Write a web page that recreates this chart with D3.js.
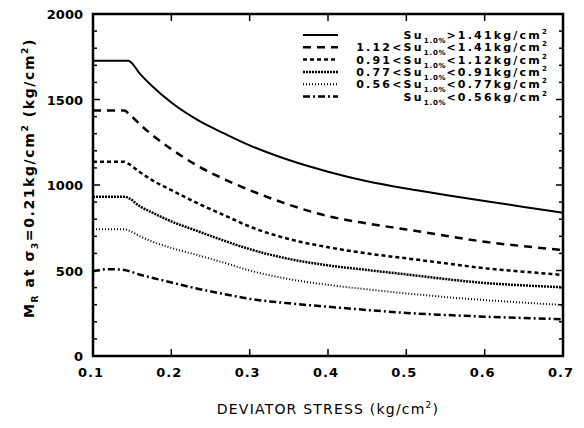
<!DOCTYPE html>
<html><head><meta charset="utf-8">
<script src="https://cdn.jsdelivr.net/npm/d3@7"></script>
<style>body{margin:0;background:#fff}svg{display:block}text{font-family:"DejaVu Sans",sans-serif}</style>
</head><body><div id="c"></div>
<script>
const xValues = [0.10,0.12,0.14,0.145,0.16,0.175,0.20,0.235,0.27,0.30,0.35,0.40,0.45,0.50,0.55,0.60,0.65,0.70];
const seriesGT141   = [1727,1727,1727,1727,1650,1580,1482,1376,1296,1232,1146,1078,1022,979,942,906,872,838];
const series112_141 = [1435,1435,1435,1420,1354,1295,1210,1108,1029,970,885,818,775,740,703,668,642,620];
const series091_112 = [1136,1136,1136,1125,1075,1030,970,890,818,757,684,636,600,571,542,513,493,474];
const series077_091 = [932,932,932,925,875,840,787,728,670,625,568,530,503,477,450,427,413,402];
const series056_077 = [741,741,741,735,700,670,632,588,542,500,450,416,390,366,345,327,312,298];
const seriesLT056   = [495,508,503,498,475,458,430,392,360,334,308,288,269,252,240,230,222,215];
const legendPre  = ["", "1.12<", "0.91<", "0.77<", "0.56<", ""];
const legendPost = [">1.41kg/cm", "<1.41kg/cm", "<1.12kg/cm", "<0.91kg/cm", "<0.77kg/cm", "<0.56kg/cm"];
const xTicks = [0.1,0.2,0.3,0.4,0.5,0.6,0.7];
const yTicks = [0,500,1000,1500,2000];

const allSeries = [seriesGT141, series112_141, series091_112, series077_091, series056_077, seriesLT056];
const dashes = [null, "8,6", "4,3", "2,1", "1,2", "7,3,2,3"];
const widths = [2, 2.5, 2.5, 2.5, 2, 2.5];

const W=584,H=428;
const svg=d3.select("#c").append("svg").attr("width",W).attr("height",H);
const L=93,R=563,T=14,B=356;
const x=d3.scaleLinear().domain([0.1,0.7]).range([L,R]);
const y=d3.scaleLinear().domain([0,2000]).range([B,T]);

const g=svg.append("g");
const minorY=d3.range(0,2001,100);
g.selectAll(".ly").data(minorY).join("line").attr("x1",L).attr("x2",d=>L+(d%500===0?7:4)).attr("y1",d=>y(d)).attr("y2",d=>y(d)).attr("stroke","#000").attr("stroke-width",1.5);
g.selectAll(".ry").data(minorY).join("line").attr("x1",R).attr("x2",d=>R-(d%500===0?7:4)).attr("y1",d=>y(d)).attr("y2",d=>y(d)).attr("stroke","#000").attr("stroke-width",1.5);
g.selectAll(".bx").data(xTicks).join("line").attr("x1",d=>x(d)).attr("x2",d=>x(d)).attr("y1",B).attr("y2",B-7).attr("stroke","#000").attr("stroke-width",1.5);
g.selectAll(".tx").data(xTicks).join("line").attr("x1",d=>x(d)).attr("x2",d=>x(d)).attr("y1",T).attr("y2",T+7).attr("stroke","#000").attr("stroke-width",1.5);

svg.append("rect").attr("x",L).attr("y",T).attr("width",R-L).attr("height",B-T).attr("fill","none").attr("stroke","#000").attr("stroke-width",2.5);

svg.selectAll(".yl").data(yTicks).join("text").attr("x",L-10).attr("y",d=>y(d)+5).attr("text-anchor","end")
  .attr("font-size",13).attr("font-weight","bold").text(d=>d);
svg.selectAll(".xl").data(xTicks).join("text").attr("x",d=>x(d)-2).attr("y",B+21).attr("text-anchor","middle")
  .attr("font-size",13).attr("font-weight","bold").attr("letter-spacing","1px").text(d=>d3.format(".1f")(d));

const xt=svg.append("text").attr("x",(L+R)/2).attr("y",414).attr("text-anchor","middle").attr("font-size",14).attr("letter-spacing","1.2px");
xt.append("tspan").text("DEVIATOR STRESS (kg/cm");
xt.append("tspan").attr("font-size",9).attr("dy",-6).text("2");
xt.append("tspan").attr("dy",6).text(")");

const yt=svg.append("text").attr("transform","translate(34,178) rotate(-90)").attr("text-anchor","middle").attr("font-size",14).attr("font-weight","bold").attr("letter-spacing","1.6px");
yt.append("tspan").text("M");
yt.append("tspan").attr("font-size",9).attr("dy",4).text("R");
yt.append("tspan").attr("dy",-4).text(" at σ");
yt.append("tspan").attr("font-size",9).attr("dy",4).text("3");
yt.append("tspan").attr("dy",-4).text("=0.21kg/cm");
yt.append("tspan").attr("font-size",9).attr("dy",-6).text("2");
yt.append("tspan").attr("dy",6).text(" (kg/cm");
yt.append("tspan").attr("font-size",9).attr("dy",-6).text("2");
yt.append("tspan").attr("dy",6).text(")");

const line=d3.line().x((d,i)=>x(xValues[i])).y(d=>y(d)).curve(d3.curveMonotoneX);
allSeries.forEach((s,k)=>{
  svg.append("path").datum(s).attr("d",line).attr("fill","none").attr("stroke","#000")
    .attr("stroke-width",widths[k]).attr("stroke-dasharray",dashes[k]);
});

const ly0=35, ldy=12.3;
allSeries.forEach((s,k)=>{
  const yy=ly0+k*ldy;
  svg.append("line").attr("x1",303).attr("x2",338).attr("y1",yy).attr("y2",yy).attr("stroke","#000")
    .attr("stroke-width",widths[k]).attr("stroke-dasharray",dashes[k]);
  const t=svg.append("text").attr("x",549).attr("y",yy+4).attr("text-anchor","end").attr("font-size",11).attr("font-weight","bold").attr("letter-spacing","2.2px");
  t.append("tspan").text(legendPre[k]+"Su");
  t.append("tspan").attr("font-size",7).attr("dy",4).attr("letter-spacing","0.8px").text("1.0%");
  t.append("tspan").attr("dy",-4).text(legendPost[k]);
  t.append("tspan").attr("font-size",7).attr("dy",-5).text("2");
  t.append("tspan").attr("dy",5).text("");
});
</script></body></html>
